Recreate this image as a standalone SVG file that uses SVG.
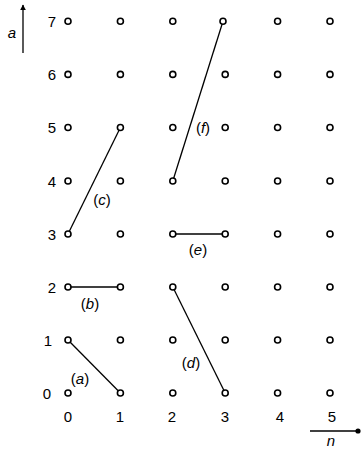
<svg xmlns="http://www.w3.org/2000/svg" width="363" height="449" viewBox="0 0 363 449">
<defs>
<style>
.pt{fill:#fff;stroke:#000;stroke-width:1.6}
.ln{stroke:#000;stroke-width:1.3;fill:none}
.t{font-family:"Liberation Sans",Arial,sans-serif;font-size:15px;fill:#000}
.m{text-anchor:middle}
.it{font-style:italic}
</style>
<circle id="p" r="3" class="pt"/>
<marker id="ah" viewBox="0 0 10 10" refX="9" refY="5" markerWidth="6" markerHeight="10" markerUnits="userSpaceOnUse" orient="auto"><path d="M0,0 L10,5 L0,10 Z" fill="#000"/></marker>
</defs>
<rect width="363" height="449" fill="#fff"/>
<g id="axes">
<line class="ln" x1="23" y1="53" x2="23" y2="5" marker-end="url(#ah)"/>
<text class="t it m" x="12" y="38">a</text>
<line class="ln" x1="310" y1="431" x2="358" y2="431"/>
<circle cx="358" cy="431" r="2.6" fill="#000"/>
<text class="t it m" x="331" y="446">n</text>
<g class="t m">
<text x="52" y="27">7</text><text x="52" y="80">6</text><text x="52" y="133">5</text><text x="52" y="187">4</text>
<text x="52" y="240">3</text><text x="52" y="293">2</text><text x="48" y="346">1</text><text x="47" y="399">0</text>
<text x="68" y="422">0</text><text x="120" y="422">1</text><text x="172" y="422">2</text><text x="225" y="422">3</text><text x="280" y="422">4</text><text x="332" y="422">5</text>
</g>
</g>
<g id="connectors">
<line class="ln" x1="68" y1="340" x2="120.4" y2="393"/>
<line class="ln" x1="68" y1="287" x2="120.4" y2="287"/>
<line class="ln" x1="68" y1="234" x2="120.4" y2="127.5"/>
<line class="ln" x1="172.8" y1="287" x2="225.2" y2="393"/>
<line class="ln" x1="172.8" y1="234" x2="225.2" y2="234"/>
<line class="ln" x1="172.8" y1="181" x2="223" y2="21.3"/>
</g>
<g id="labels" class="t m">
<text x="80" y="384">(<tspan class="it">a</tspan>)</text>
<text x="90" y="309">(<tspan class="it">b</tspan>)</text>
<text x="102" y="205">(<tspan class="it">c</tspan>)</text>
<text x="191" y="368">(<tspan class="it">d</tspan>)</text>
<text x="198" y="255">(<tspan class="it">e</tspan>)</text>
<text x="203" y="133">(<tspan class="it">f</tspan>)</text>
</g>
<g id="grid">
<g id="col0"><use href="#p" x="68" y="393"/><use href="#p" x="68" y="340"/><use href="#p" x="68" y="287"/><use href="#p" x="68" y="234"/><use href="#p" x="68" y="181"/><use href="#p" x="68" y="127.5"/><use href="#p" x="68" y="74.4"/><use href="#p" x="68" y="21.3"/></g>
<g id="col1"><use href="#p" x="120.4" y="393"/><use href="#p" x="120.4" y="340"/><use href="#p" x="120.4" y="287"/><use href="#p" x="120.4" y="234"/><use href="#p" x="120.4" y="181"/><use href="#p" x="120.4" y="127.5"/><use href="#p" x="120.4" y="74.4"/><use href="#p" x="120.4" y="21.3"/></g>
<g id="col2"><use href="#p" x="172.8" y="393"/><use href="#p" x="172.8" y="340"/><use href="#p" x="172.8" y="287"/><use href="#p" x="172.8" y="234"/><use href="#p" x="172.8" y="181"/><use href="#p" x="172.8" y="127.5"/><use href="#p" x="172.8" y="74.4"/><use href="#p" x="172.8" y="21.3"/></g>
<g id="col3"><use href="#p" x="225.2" y="393"/><use href="#p" x="225.2" y="340"/><use href="#p" x="225.2" y="287"/><use href="#p" x="225.2" y="234"/><use href="#p" x="225.2" y="181"/><use href="#p" x="225.2" y="127.5"/><use href="#p" x="225.2" y="74.4"/><use href="#p" x="223" y="21.3"/></g>
<g id="col4"><use href="#p" x="277.6" y="393"/><use href="#p" x="277.6" y="340"/><use href="#p" x="277.6" y="287"/><use href="#p" x="277.6" y="234"/><use href="#p" x="277.6" y="181"/><use href="#p" x="277.6" y="127.5"/><use href="#p" x="277.6" y="74.4"/><use href="#p" x="277.6" y="21.3"/></g>
<g id="col5"><use href="#p" x="330" y="393"/><use href="#p" x="330" y="340"/><use href="#p" x="330" y="287"/><use href="#p" x="330" y="234"/><use href="#p" x="330" y="181"/><use href="#p" x="330" y="127.5"/><use href="#p" x="330" y="74.4"/><use href="#p" x="330" y="21.3"/></g>
</g>
</svg>
